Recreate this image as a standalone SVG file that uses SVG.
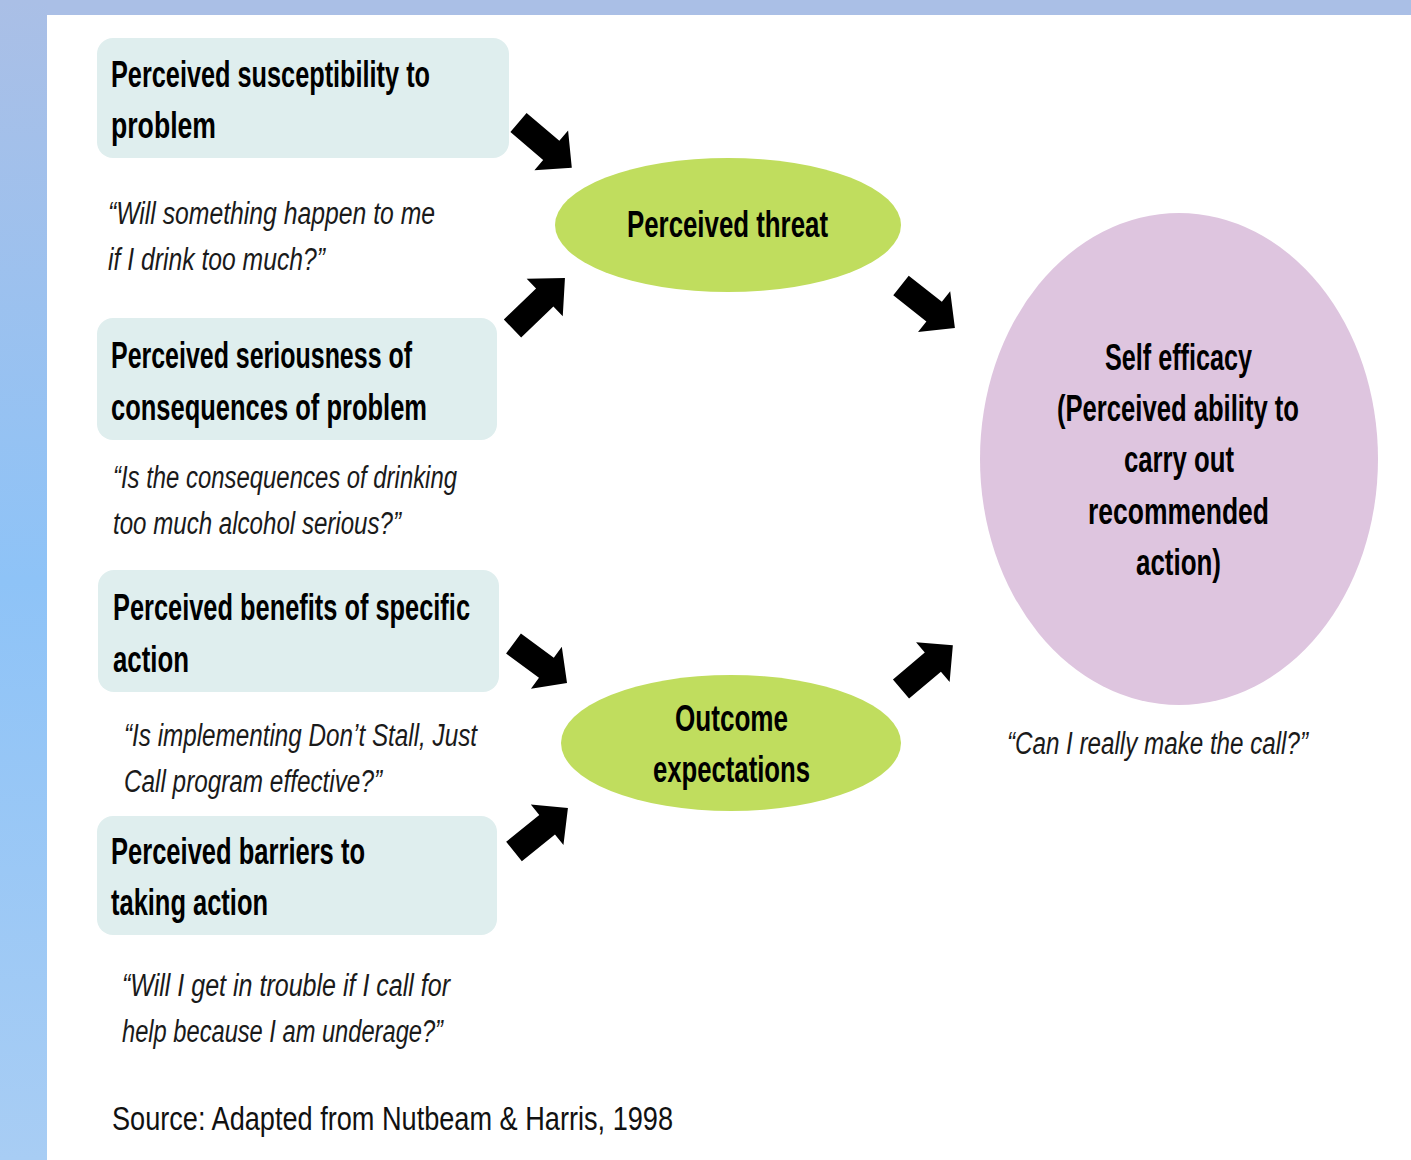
<svg xmlns="http://www.w3.org/2000/svg" xmlns:xlink="http://www.w3.org/1999/xlink" width="1411" height="1160" viewBox="0 0 1411 1160">
<defs>
<linearGradient id="side" x1="0" y1="0" x2="0" y2="1">
<stop offset="0" stop-color="#aabfe6"/>
<stop offset="0.5" stop-color="#8ec3f7"/>
<stop offset="1" stop-color="#a8cdf4"/>
</linearGradient>
<path id="arr" d="M0,-12.5 L43,-12.5 L43,-26 L70,0 L43,26 L43,12.5 L0,12.5 Z" fill="#000"/>
<style>
.box{fill:#dfeeee}
.green{fill:#c0dd5e}
.purple{fill:#dec5df}
.b{font-family:"Liberation Sans",Arial,sans-serif;font-weight:bold;font-size:36px;fill:#000}
.i{font-family:"Liberation Sans",Arial,sans-serif;font-style:italic;font-size:31px;fill:#1a1a1a}
.src{font-family:"Liberation Sans",Arial,sans-serif;font-size:33px;fill:#111}
</style>
</defs>
<rect x="0" y="0" width="1411" height="1160" fill="#fff"/>
<rect x="0" y="0" width="47" height="1160" fill="url(#side)"/>
<rect x="47" y="0" width="1364" height="15" fill="#aabfe6"/>

<g id="box-susceptibility">
<rect class="box" x="97" y="38" width="412" height="120" rx="16"/>
<text class="b" x="111" y="87" textLength="319" lengthAdjust="spacingAndGlyphs">Perceived susceptibility to</text>
<text class="b" x="111" y="138" textLength="105" lengthAdjust="spacingAndGlyphs">problem</text>
</g>
<text class="i" x="108" y="224" textLength="327" lengthAdjust="spacingAndGlyphs">“Will something happen to me</text>
<text class="i" x="108" y="270" textLength="217" lengthAdjust="spacingAndGlyphs">if I drink too much?”</text>

<g id="box-seriousness">
<rect class="box" x="97" y="318" width="400" height="122" rx="16"/>
<text class="b" x="111" y="368" textLength="301" lengthAdjust="spacingAndGlyphs">Perceived seriousness of</text>
<text class="b" x="111" y="420" textLength="316" lengthAdjust="spacingAndGlyphs">consequences of problem</text>
</g>
<text class="i" x="113" y="488" textLength="344" lengthAdjust="spacingAndGlyphs">“Is the consequences  of drinking</text>
<text class="i" x="113" y="534" textLength="288" lengthAdjust="spacingAndGlyphs">too much alcohol serious?”</text>

<g id="box-benefits">
<rect class="box" x="98" y="570" width="401" height="122" rx="16"/>
<text class="b" x="113" y="620" textLength="357" lengthAdjust="spacingAndGlyphs">Perceived benefits of specific</text>
<text class="b" x="113" y="672" textLength="76" lengthAdjust="spacingAndGlyphs">action</text>
</g>
<text class="i" x="124" y="746" textLength="353" lengthAdjust="spacingAndGlyphs">“Is implementing Don’t Stall, Just</text>
<text class="i" x="124" y="792" textLength="258" lengthAdjust="spacingAndGlyphs">Call program effective?”</text>

<g id="box-barriers">
<rect class="box" x="97" y="816" width="400" height="119" rx="16"/>
<text class="b" x="111" y="864" textLength="254" lengthAdjust="spacingAndGlyphs">Perceived barriers to</text>
<text class="b" x="111" y="915" textLength="157" lengthAdjust="spacingAndGlyphs">taking action</text>
</g>
<text class="i" x="122" y="996" textLength="328" lengthAdjust="spacingAndGlyphs">“Will I get in trouble if I call for</text>
<text class="i" x="122" y="1042" textLength="321" lengthAdjust="spacingAndGlyphs">help because  I am underage?”</text>

<g id="node-threat">
<ellipse class="green" cx="728" cy="225" rx="173" ry="67"/>
<text class="b" x="627" y="237" textLength="201" lengthAdjust="spacingAndGlyphs">Perceived threat</text>
</g>

<g id="node-outcome">
<ellipse class="green" cx="731" cy="743" rx="170" ry="68"/>
<text class="b" x="675" y="731" textLength="113" lengthAdjust="spacingAndGlyphs">Outcome</text>
<text class="b" x="653" y="782" textLength="157" lengthAdjust="spacingAndGlyphs">expectations</text>
</g>

<g id="node-selfefficacy">
<ellipse class="purple" cx="1179" cy="459" rx="199" ry="246"/>
<text class="b" x="1105" y="370" textLength="147" lengthAdjust="spacingAndGlyphs">Self efficacy</text>
<text class="b" x="1057" y="421" textLength="242" lengthAdjust="spacingAndGlyphs">(Perceived ability to</text>
<text class="b" x="1124" y="472" textLength="110" lengthAdjust="spacingAndGlyphs">carry out</text>
<text class="b" x="1088" y="524" textLength="181" lengthAdjust="spacingAndGlyphs">recommended</text>
<text class="b" x="1136" y="575" textLength="85" lengthAdjust="spacingAndGlyphs">action)</text>
</g>
<text class="i" x="1007" y="754" textLength="301" lengthAdjust="spacingAndGlyphs">“Can I really make the call?”</text>

<g id="connectors">
<use xlink:href="#arr" transform="translate(518.5,122.5) rotate(40.4)"/>
<use xlink:href="#arr" transform="translate(512.5,328.5) rotate(-43.9) scale(1.04,1)"/>
<use xlink:href="#arr" transform="translate(901,285.5) rotate(38.2) scale(0.98,1)"/>
<use xlink:href="#arr" transform="translate(901,689) rotate(-40.2) scale(0.97,1)"/>
<use xlink:href="#arr" transform="translate(513.5,643.5) rotate(36.4) scale(0.95,1)"/>
<use xlink:href="#arr" transform="translate(514,851.5) rotate(-38.9) scale(0.99,1)"/>
</g>

<text class="src" x="112" y="1130" textLength="561" lengthAdjust="spacingAndGlyphs">Source: Adapted from Nutbeam &amp; Harris, 1998</text>
</svg>
